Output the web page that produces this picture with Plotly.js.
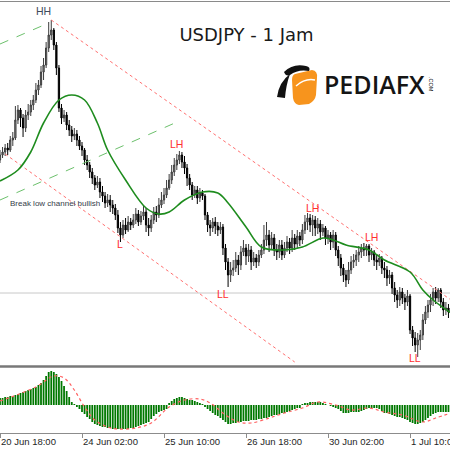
<!DOCTYPE html>
<html><head><meta charset="utf-8">
<script src="https://cdn.plot.ly/plotly-3.0.1.min.js"></script>
<style>html,body{margin:0;padding:0;background:#fff}#chart{width:450px;height:450px}</style>
</head><body><div id="chart"></div>
<script>
// ---- time axis ----
const tickIdx = [0, 32, 64, 96, 128, 160];
const tickLabels = ['20 Jun 18:00', '24 Jun 02:00', '25 Jun 10:00', '26 Jun 18:00', '30 Jun 02:00', '1 Jul 10:00'];

// ---- USDJPY H1 candles ----
const openP = [
101.700,101.725,101.740,101.760,101.750,101.800,101.810,101.900,101.950,101.910,
101.860,101.925,101.940,101.975,102.000,102.050,102.075,102.140,102.175,102.260,
102.325,102.350,102.275,102.160,101.960,101.910,101.925,101.875,101.850,101.820,
101.830,101.800,101.770,101.750,101.700,101.675,101.640,101.610,101.575,101.590,
101.540,101.520,101.485,101.500,101.475,101.460,101.425,101.360,101.325,101.375,
101.350,101.390,101.375,101.400,101.430,101.390,101.420,101.440,101.375,101.360,
101.400,101.440,101.425,101.475,101.500,101.525,101.560,101.600,101.640,101.675,
101.700,101.725,101.690,101.660,101.610,101.575,101.525,101.550,101.510,101.535,
101.520,101.425,101.375,101.360,101.390,101.370,101.350,101.365,101.260,101.190,
101.125,101.150,101.160,101.200,101.175,101.240,101.260,101.220,101.250,101.190,
101.210,101.190,101.225,101.250,101.300,101.325,101.275,101.310,101.250,101.240,
101.275,101.225,101.260,101.290,101.260,101.310,101.280,101.320,101.300,101.350,
101.390,101.410,101.375,101.400,101.360,101.380,101.340,101.360,101.310,101.325,
101.290,101.325,101.250,101.210,101.160,101.125,101.100,101.150,101.190,101.200,
101.225,101.240,101.260,101.250,101.270,101.225,101.240,101.200,101.190,101.210,
101.160,101.150,101.110,101.125,101.060,101.025,101.000,101.040,101.010,100.990,
101.020,100.850,100.810,100.775,100.800,100.825,100.900,100.940,100.975,101.000,
101.040,101.010,101.050,100.990,100.950,100.960];
const highP = [
101.750,101.765,101.780,101.785,101.820,101.840,101.970,101.975,101.960,101.930,
101.950,101.980,102.000,102.025,102.085,102.100,102.170,102.210,102.290,102.390,
102.400,102.360,102.290,102.175,101.980,101.950,101.940,101.900,101.870,101.860,
101.850,101.820,101.790,101.760,101.725,101.690,101.660,101.625,101.620,101.610,
101.570,101.540,101.530,101.525,101.500,101.480,101.450,101.390,101.400,101.410,
101.420,101.410,101.430,101.460,101.450,101.445,101.470,101.460,101.410,101.425,
101.465,101.470,101.510,101.540,101.560,101.600,101.630,101.675,101.710,101.730,
101.745,101.740,101.720,101.680,101.630,101.590,101.570,101.570,101.560,101.550,
101.530,101.440,101.400,101.410,101.415,101.390,101.390,101.380,101.280,101.210,
101.190,101.200,101.240,101.225,101.270,101.300,101.280,101.280,101.270,101.240,
101.230,101.250,101.280,101.375,101.390,101.350,101.340,101.330,101.280,101.300,
101.300,101.290,101.320,101.310,101.350,101.330,101.350,101.340,101.380,101.425,
101.435,101.430,101.425,101.420,101.410,101.400,101.380,101.370,101.350,101.340,
101.350,101.340,101.270,101.230,101.180,101.150,101.190,101.220,101.230,101.250,
101.270,101.280,101.285,101.280,101.280,101.260,101.250,101.230,101.230,101.220,
101.190,101.170,101.150,101.140,101.090,101.050,101.065,101.060,101.030,101.050,
101.030,100.870,100.840,100.835,100.850,100.930,100.970,101.000,101.030,101.060,
101.065,101.060,101.060,101.010,100.990,100.980];
const lowP = [
101.685,101.710,101.720,101.725,101.740,101.770,101.800,101.880,101.865,101.815,
101.840,101.900,101.920,101.950,101.985,102.025,102.060,102.100,102.160,102.240,
102.300,102.250,102.125,101.940,101.880,101.890,101.850,101.820,101.790,101.800,
101.770,101.750,101.720,101.675,101.650,101.610,101.580,101.550,101.560,101.510,
101.490,101.460,101.465,101.440,101.430,101.400,101.335,101.290,101.310,101.330,
101.340,101.350,101.360,101.380,101.370,101.375,101.400,101.340,101.320,101.340,
101.380,101.390,101.410,101.460,101.480,101.510,101.550,101.580,101.620,101.650,
101.680,101.660,101.630,101.570,101.550,101.500,101.510,101.480,101.490,101.500,
101.400,101.340,101.320,101.340,101.330,101.320,101.330,101.225,101.150,101.065,
101.090,101.120,101.140,101.125,101.150,101.220,101.175,101.190,101.150,101.170,
101.160,101.170,101.210,101.230,101.270,101.240,101.250,101.220,101.200,101.210,
101.200,101.210,101.240,101.230,101.240,101.250,101.260,101.270,101.280,101.330,
101.350,101.340,101.320,101.320,101.330,101.300,101.320,101.275,101.280,101.250,
101.260,101.220,101.170,101.120,101.090,101.065,101.080,101.130,101.160,101.170,
101.190,101.210,101.220,101.220,101.190,101.200,101.170,101.150,101.170,101.130,
101.110,101.070,101.080,101.030,100.990,100.960,100.970,100.980,100.950,100.970,
100.830,100.770,100.740,100.715,100.750,100.800,100.880,100.910,100.940,100.970,
100.980,100.990,100.960,100.920,100.925,100.910];
const closeP = [
101.725,101.740,101.760,101.750,101.800,101.810,101.900,101.950,101.910,101.860,
101.925,101.940,101.975,102.000,102.050,102.075,102.140,102.175,102.260,102.325,
102.350,102.275,102.160,101.960,101.910,101.925,101.875,101.850,101.820,101.830,
101.800,101.770,101.750,101.700,101.675,101.640,101.610,101.575,101.590,101.540,
101.520,101.485,101.500,101.475,101.460,101.425,101.360,101.325,101.375,101.350,
101.390,101.375,101.400,101.430,101.390,101.420,101.440,101.375,101.360,101.400,
101.440,101.425,101.475,101.500,101.525,101.560,101.600,101.640,101.675,101.700,
101.725,101.690,101.660,101.610,101.575,101.525,101.550,101.510,101.535,101.520,
101.425,101.375,101.360,101.390,101.370,101.350,101.365,101.260,101.190,101.125,
101.150,101.160,101.200,101.175,101.240,101.260,101.220,101.250,101.190,101.210,
101.190,101.225,101.250,101.300,101.325,101.275,101.310,101.250,101.240,101.275,
101.225,101.260,101.290,101.260,101.310,101.280,101.320,101.300,101.350,101.390,
101.410,101.375,101.400,101.360,101.380,101.340,101.360,101.310,101.325,101.290,
101.325,101.250,101.210,101.160,101.125,101.100,101.150,101.190,101.200,101.225,
101.240,101.260,101.250,101.270,101.225,101.240,101.200,101.190,101.210,101.160,
101.150,101.110,101.125,101.060,101.025,101.000,101.040,101.010,100.990,101.020,
100.850,100.810,100.775,100.800,100.825,100.900,100.940,100.975,101.000,101.040,
101.010,101.050,100.990,100.950,100.960,100.940];

// ---- moving average (read at points along the curve) ----
const maIdx = [0,7,12,17,23,28,33,38,42,49,57,62,66,72,79,85,89,96,102,111,118,126,130,135,144,150,160,165,169,176];
const maVal = [101.595,101.65,101.74,101.885,102.00,102.025,102.00,101.885,101.75,101.60,101.46,101.43,101.44,101.50,101.54,101.535,101.485,101.365,101.265,101.25,101.265,101.31,101.30,101.275,101.25,101.20,101.14,101.05,101.00,100.935];

// ---- drawn trend lines ----
const redUpIdx = [20, 176],  redUpVal = [102.40, 101.00];
const redLowIdx = [2, 115],  redLowVal = [101.73, 100.69];
const greenUpIdx = [0, 19],  greenUpVal = [102.28, 102.385];
const greenLowIdx = [0, 70], greenLowVal = [101.50, 101.895];
const levelPrice = 101.035;

// ---- swing labels ----
const labelText  = ['HH', 'LH', 'L', 'LL', 'LH', 'LH', 'LL'];
const labelIdx   = [17, 69, 47, 87, 122, 145, 162];
const labelPrice = [102.445, 101.78, 101.28, 101.03, 101.46, 101.315, 100.71];
const noteText = 'Break low channel bullish';
const noteIdx = 3, notePrice = 101.4825;

// ---- MACD ----
const macdHist = [
7,7,8,8,9,9,10,11,12,13,
14,15,16,17,18,20,22,25,29,33,
34,33,31,28,24,19,14,8,3,1,
-2,-4,-7,-9,-12,-14,-17,-19,-20,-21,
-22,-22,-23,-23,-24,-24,-24,-24,-24,-24,
-24,-23,-23,-22,-21,-20,-19,-18,-17,-14,
-11,-9,-7,-6,-5,-4,2,4,6,7,
8,8,7,6,5,5,4,3,2,1,
-2,-4,-6,-8,-10,-11,-13,-15,-17,-19,
-19,-18,-18,-17,-17,-16,-16,-16,-15,-15,
-15,-14,-14,-13,-13,-12,-11,-10,-10,-9,
-8,-8,-7,-6,-5,-4,-3,-3,1,2,
2,3,3,3,3,3,2,1,0,-1,
-2,-3,-4,-6,-8,-8,-8,-7,-7,-7,
-7,-6,-5,-4,-3,-3,-3,-3,-4,-6,
-8,-8,-9,-10,-11,-12,-12,-13,-14,-15,
-17,-18,-19,-19,-18,-17,-15,-13,-11,-9,
-8,-7,-7,-7,-7,-7];
const sigIdx = [0,14,21,25,29,33,37,42,46,53,59,66,72,78,82,88,93,98,105,111,118,124,131,137,144,150,157,165,170,176];
const sigVal = [4,18,29,27,15,-2,-15,-22,-24,-23,-18,-2,5,6,2,-10,-17,-18,-13,-8,-3,3,0,-5,-3,-7,-10,-17,-13,-8];

const barIdx = closeP.map((_, i) => i);

// pixel -> paper helper for decorative layout paths
const W = 450, H = 450;
function pp(s){ return s.replace(/(-?\d+(?:\.\d+)?),(-?\d+(?:\.\d+)?)/g, (m,a,b)=> (a/W).toFixed(4)+','+(1-b/H).toFixed(4)); }

const traces = [
  {type:'scatter', mode:'lines', x:greenUpIdx, y:greenUpVal, xaxis:'x', yaxis:'y',
   line:{color:'#6cc06c', width:1, dash:'dash'}, hoverinfo:'skip'},
  {type:'scatter', mode:'lines', x:greenLowIdx, y:greenLowVal, xaxis:'x', yaxis:'y',
   line:{color:'#6cc06c', width:1, dash:'dash'}, hoverinfo:'skip'},
  {type:'scatter', mode:'lines', x:redUpIdx, y:redUpVal, xaxis:'x', yaxis:'y',
   line:{color:'#ff7070', width:1, dash:'dot'}, hoverinfo:'skip'},
  {type:'scatter', mode:'lines', x:redLowIdx, y:redLowVal, xaxis:'x', yaxis:'y',
   line:{color:'#ff7070', width:1, dash:'dot'}, hoverinfo:'skip'},
  {type:'candlestick', x:barIdx, open:openP, high:highP, low:lowP, close:closeP,
   xaxis:'x', yaxis:'y', whiskerwidth:0,
   increasing:{line:{color:'#3c3c3c', width:1}, fillcolor:'#8c8c8c'},
   decreasing:{line:{color:'#000000', width:1}, fillcolor:'#000000'},
   hoverinfo:'skip'},
  {type:'scatter', mode:'lines', x:maIdx, y:maVal, xaxis:'x', yaxis:'y',
   line:{color:'#1e8c1e', width:1.6, shape:'spline', smoothing:1}, hoverinfo:'skip'},
  {type:'bar', x:barIdx, y:macdHist, xaxis:'x', yaxis:'y2',
   marker:{color:'#007800', line:{width:0}}, hoverinfo:'skip'},
  {type:'scatter', mode:'lines', x:sigIdx, y:sigVal, xaxis:'x', yaxis:'y2',
   line:{color:'#ff6060', width:1.2, dash:'dot', shape:'spline', smoothing:1}, hoverinfo:'skip'}
];

const annotations = labelText.map((t, k) => ({
  xref:'x', yref:'y', x:labelIdx[k], y:labelPrice[k], text:t, showarrow:false,
  font:{family:'Liberation Sans, Arial, sans-serif', size:10.5, color: t === 'HH' ? '#3d4b5c' : '#ff3030'}
}));
annotations.push({xref:'x', yref:'y', x:noteIdx, y:notePrice, text:noteText, showarrow:false,
  xanchor:'left', font:{family:'Liberation Sans, Arial, sans-serif', size:8, color:'#36404a'}});
annotations.push({xref:'paper', yref:'paper', x:322/W, y:1-84/H, xanchor:'left', yanchor:'middle',
  text:'PEDIAFX', showarrow:false,
  font:{family:'Open Sans, sans-serif', size:25, weight:600, color:'#151515'}});
annotations.push({xref:'paper', yref:'paper', x:431/W, y:1-84/H, xanchor:'center', yanchor:'middle',
  text:'.COM', showarrow:false, textangle:90,
  font:{family:'Liberation Sans, Arial, sans-serif', size:5.5, color:'#151515'}});

const shapes = [
  {type:'line', xref:'paper', yref:'y', x0:0, x1:1, y0:levelPrice, y1:levelPrice,
   line:{color:'#c8c8c8', width:1}, layer:'below'},
  {type:'line', xref:'paper', yref:'paper', x0:0, x1:1, y0:1-1.5/H, y1:1-1.5/H,
   line:{color:'#8a8a8a', width:1}},
  {type:'line', xref:'paper', yref:'paper', x0:0, x1:1, y0:1-366.5/H, y1:1-366.5/H,
   line:{color:'#787878', width:2.5}},
  // logo
  {type:'path', xref:'paper', yref:'paper', line:{width:0}, fillcolor:'#f7941d',
   path:pp('M 295,74 L 312,70 Q 318,71 317,78 L 316,95 Q 315,101 309,104 L 299,105 Q 294,104 293,98 L 292,80 Q 292,75 295,74 Z')},
  {type:'path', xref:'paper', yref:'paper', line:{width:0}, fillcolor:'#111111',
   path:pp('M 284,72 Q 293,63 306,66 Q 311,67 309,71 Q 298,69 290,75 Q 286,77 284,72 Z')},
  {type:'path', xref:'paper', yref:'paper', line:{width:0}, fillcolor:'#111111',
   path:pp('M 277,97 Q 279,82 290,74 Q 286,85 285,98 Z')},
  {type:'path', xref:'paper', yref:'paper', line:{color:'#ffffff', width:1.5},
   path:pp('M 296,86 Q 305,78 315,80')}
];

const layout = {
  width:W, height:H, margin:{l:0, r:0, t:0, b:0},
  paper_bgcolor:'#ffffff', plot_bgcolor:'#ffffff', showlegend:false, hovermode:false,
  bargap:0.3,
  title:{text:'USDJPY - 1 Jam', xref:'container', yref:'container', x:246.5/W, y:1-35/H,
         xanchor:'center', yanchor:'middle',
         font:{family:'DejaVu Sans, sans-serif', size:18, color:'#1a1a1a'}},
  xaxis:{range:[0, 175.6], anchor:'y2', showgrid:false, zeroline:false,
         showline:true, linecolor:'#8c8c8c', linewidth:1,
         ticks:'outside', ticklen:4, tickcolor:'#8c8c8c',
         tickvals:tickIdx, ticktext:tickLabels, ticklabelposition:'outside right',
         ticklabeloverflow:'allow',
         tickfont:{family:'Liberation Sans, Arial, sans-serif', size:9.5, color:'#1e1e1e'},
         rangeslider:{visible:false}, fixedrange:true},
  yaxis:{domain:[84/H, 448/H], range:[100.67, 102.49], visible:false, fixedrange:true},
  yaxis2:{domain:[17/H, 82/H], range:[-28, 37], visible:false, fixedrange:true},
  shapes:shapes, annotations:annotations
};

Plotly.newPlot('chart', traces, layout, {staticPlot:true, displayModeBar:false});
</script>
</body></html>
